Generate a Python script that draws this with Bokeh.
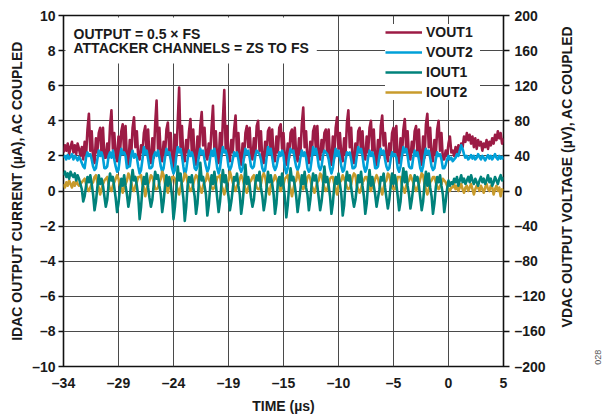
import math
from bokeh.plotting import figure
from bokeh.layouts import row
from bokeh.models import Range1d, LinearAxis, FixedTicker, Legend, LegendItem, Label
from bokeh.embed import file_html
from bokeh.resources import INLINE

# ---------------- data ----------------
t_start_us = -34.0
t_step_us = 0.125

# VOUT1, right axis (uV)
vout1_uV = [
    44, 52, 46, 54, 42, 50, 56, 44, 52, 42, 54, 48, 40, 50,
    36, 56, 40, 70, 88, 46, 68, 36,
    32, 60, 44, 66, 72, 42, 72, 38,
    38, 54, 38, 74, 92, 48, 66, 40,
    34, 62, 42, 68, 76, 44, 74, 34,
    30, 58, 40, 72, 84, 50, 68, 38,
    36, 52, 44, 66, 74, 42, 70, 36,
    32, 60, 38, 76, 103, 48, 72, 40,
    34, 56, 42, 70, 78, 46, 66, 34,
    28, 64, 40, 78, 118, 50, 74, 38,
    34, 58, 44, 68, 82, 44, 70, 36,
    30, 62, 38, 74, 90, 52, 72, 40,
    36, 54, 42, 72, 97, 46, 68, 34,
    32, 66, 40, 80, 115, 48, 74, 38,
    34, 58, 44, 70, 86, 44, 66, 36,
    30, 54, 38, 66, 74, 50, 72, 40,
    36, 60, 42, 74, 80, 46, 68, 34,
    32, 56, 40, 68, 72, 42, 70, 38,
    34, 62, 44, 72, 76, 48, 66, 36,
    30, 54, 38, 66, 70, 44, 72, 40,
    34, 60, 42, 76, 95, 50, 68, 34,
    32, 56, 40, 68, 74, 46, 74, 38,
    36, 58, 44, 66, 70, 42, 70, 36,
    30, 62, 38, 72, 84, 48, 66, 40,
    34, 60, 42, 78, 92, 50, 72, 34,
    32, 54, 40, 68, 72, 44, 68, 38,
    36, 62, 44, 72, 80, 46, 70, 36,
    30, 58, 38, 74, 86, 52, 66, 40,
    34, 54, 42, 66, 72, 44, 74, 34,
    32, 60, 40, 70, 82, 48, 68, 38,
    36, 56, 44, 68, 74, 42, 70, 36,
    30, 62, 38, 76, 88, 50, 72, 40,
    34, 58, 42, 70, 80, 46, 66, 36,
    36, 46, 40, 54, 62, 44,
    46, 40, 50, 42, 52, 44, 54, 50, 62, 56, 66, 58, 64, 54, 62, 50, 60, 48, 58,
    52, 56, 46, 54, 50, 58, 48, 56, 52, 60, 54, 64, 58, 68, 60, 66, 54, 60,
]

# VOUT2, right axis (uV)
vout2_uV = [
    38, 40, 36, 41, 37, 39, 42, 36, 40, 38, 35, 39, 36, 32,
    28, 26, 38, 44, 40, 42, 36, 28,
    24, 26, 36, 46, 40, 44, 38, 26,
    26, 28, 40, 44, 38, 46, 36, 28,
    22, 24, 38, 48, 42, 44, 40, 26,
    28, 28, 40, 46, 38, 42, 38, 28,
    20, 24, 36, 50, 42, 46, 36, 26,
    26, 28, 40, 44, 40, 46, 38, 28,
    22, 26, 38, 48, 42, 44, 36, 26,
    20, 24, 40, 50, 44, 48, 40, 28,
    18, 24, 36, 46, 40, 44, 38, 26,
    24, 28, 40, 48, 42, 46, 36, 28,
    22, 26, 38, 46, 40, 48, 38, 26,
    20, 26, 40, 50, 44, 46, 40, 28,
    24, 28, 36, 44, 40, 44, 36, 26,
    22, 26, 38, 48, 42, 46, 38, 28,
    26, 28, 40, 46, 44, 42, 36, 26,
    22, 24, 38, 50, 42, 48, 38, 28,
    24, 28, 36, 44, 40, 46, 40, 26,
    20, 26, 40, 48, 44, 46, 36, 28,
    24, 28, 38, 46, 40, 44, 38, 26,
    22, 24, 36, 50, 42, 48, 40, 28,
    24, 28, 40, 46, 44, 42, 36, 26,
    20, 26, 38, 48, 40, 46, 38, 28,
    22, 24, 36, 44, 42, 44, 36, 26,
    26, 28, 40, 50, 44, 48, 40, 28,
    22, 26, 38, 46, 40, 44, 38, 26,
    26, 28, 40, 48, 42, 46, 36, 28,
    24, 26, 36, 44, 40, 42, 38, 26,
    22, 28, 40, 50, 44, 48, 40, 28,
    26, 26, 38, 46, 40, 44, 36, 26,
    22, 28, 40, 48, 42, 46, 38, 28,
    24, 26, 36, 44, 40, 42, 36, 26,
    26, 30, 36, 40, 36, 38,
    34, 36, 38, 42, 40, 46, 52, 48, 42, 38, 40, 36, 38, 41, 37, 40, 36, 38, 42,
    39, 36, 40, 38, 35, 38, 41, 37, 40, 36, 39, 42, 38, 36, 40, 37, 39, 36,
]

# IOUT1, left axis (uA)
iout1_uA = [
    0.9, 1.1, 0.8, 1.0, 0.7, 1.1, 0.9, 0.8, 1.0, 0.6, 0.9, 0.7, 0.4, 0.1,
    -0.6, -0.3, 0.3, 0.8, 0.5, 0.9, 0.4, -0.2,
    -1.1, -0.6, 0.2, 0.9, 0.4, 0.7, 0.3, -0.3,
    -0.9, -0.5, 0.4, 1.0, 0.6, 0.8, 0.2, -0.4,
    -1.2, -0.7, 0.1, 0.7, 0.3, 0.9, 0.3, -0.2,
    -0.9, -0.4, 0.5, 1.2, 0.6, 0.8, 0.3, -0.3,
    -1.6, -0.9, 0.2, 0.8, 0.4, 1.0, 0.2, -0.4,
    -0.9, -0.5, 0.4, 1.1, 0.7, 0.9, 0.3, -0.2,
    -1.2, -0.6, 0.3, 0.9, 0.3, 0.8, 0.4, -0.3,
    -1.6, -0.9, 0.1, 1.4, 0.6, 1.0, 0.3, -0.4,
    -1.7, -0.9, 0.3, 0.8, 0.5, 0.9, 0.2, -0.3,
    -1.3, -0.7, 0.5, 1.6, 0.6, 0.8, 0.3, -0.2,
    -1.4, -0.8, 0.2, 0.9, 0.4, 1.1, 0.4, -0.4,
    -1.2, -0.6, 0.4, 1.2, 0.5, 0.9, 0.2, -0.3,
    -1.1, -0.6, 0.1, 0.8, 0.6, 1.0, 0.3, -0.2,
    -1.3, -0.7, 0.3, 1.5, 0.4, 0.8, 0.3, -0.4,
    -0.9, -0.5, 0.4, 0.9, 0.6, 1.1, 0.2, -0.3,
    -1.1, -0.6, 0.2, 1.1, 0.5, 0.9, 0.4, -0.2,
    -1.3, -0.7, 0.5, 0.8, 0.3, 1.0, 0.3, -0.4,
    -1.5, -0.8, 0.3, 1.3, 0.6, 0.8, 0.3, -0.3,
    -1.2, -0.6, 0.1, 0.9, 0.4, 1.1, 0.2, -0.2,
    -1.1, -0.5, 0.4, 1.0, 0.6, 0.9, 0.3, -0.4,
    -1.1, -0.6, 0.2, 1.4, 0.5, 0.8, 0.3, -0.3,
    -1.3, -0.7, 0.3, 0.8, 0.4, 1.0, 0.4, -0.2,
    -1.4, -0.8, 0.5, 1.1, 0.6, 0.9, 0.2, -0.4,
    -0.9, -0.5, 0.2, 0.9, 0.5, 1.1, 0.3, -0.3,
    -1.3, -0.7, 0.4, 1.2, 0.3, 0.8, 0.3, -0.2,
    -0.9, -0.4, 0.1, 0.8, 0.6, 1.0, 0.2, -0.4,
    -1.0, -0.5, 0.3, 1.0, 0.4, 0.9, 0.4, -0.3,
    -1.1, -0.6, 0.5, 1.3, 0.5, 1.1, 0.3, -0.2,
    -1.0, -0.5, 0.2, 0.9, 0.6, 0.8, 0.3, -0.4,
    -1.1, -0.6, 0.4, 1.1, 0.3, 1.0, 0.2, -0.3,
    -1.3, -0.7, 0.2, 0.8, 0.5, 0.9, 0.3, -0.2,
    -1.2, -0.6, 0.1, 0.6, 0.3, 0.5,
    0.4, 0.7, 0.5, 0.8, 0.3, 0.6, 0.9, 0.5, 0.7, 0.4, 0.6, 0.8, 0.5, 0.9, 0.6, 0.4, 0.7, 0.5, 0.3,
    0.6, 0.8, 0.5, 0.7, 0.4, 0.6, 0.9, 0.5, 0.7, 0.3, 0.5, 0.8, 0.6, 0.4, 0.7, 0.9, 0.6, 0.8,
]

# IOUT2, left axis (uA)
iout2_uA = [
    0.4, 0.2, 0.5, 0.3, 0.6, 0.4, 0.2, 0.5, 0.3, 0.6, 0.4, 0.3, 0.4, 0.5,
    0.6, 0.7, 0.4, 0.1, 0.0, 0.2, 0.4, 0.5,
    0.8, 0.9, 0.5, 0.2, -0.2, 0.1, 0.4, 0.6,
    0.7, 0.8, 0.4, 0.1, 0.0, 0.3, 0.5, 0.7,
    0.9, 0.7, 0.3, 0.2, -0.1, 0.2, 0.4, 0.6,
    1.0, 0.8, 0.5, 0.1, 0.0, 0.3, 0.5, 0.8,
    0.8, 0.9, 0.4, 0.2, -0.3, 0.1, 0.4, 0.6,
    0.9, 0.8, 0.5, 0.1, 0.1, 0.2, 0.5, 0.7,
    1.1, 0.9, 0.4, 0.2, -0.1, 0.3, 0.4, 0.8,
    0.8, 0.7, 0.3, 0.1, -0.2, 0.2, 0.5, 0.6,
    1.0, 0.9, 0.5, 0.2, 0.0, 0.1, 0.4, 0.7,
    0.9, 0.8, 0.4, 0.1, -0.1, 0.3, 0.5, 0.6,
    1.0, 0.7, 0.5, 0.2, 0.1, 0.2, 0.4, 0.8,
    0.8, 0.9, 0.3, 0.1, -0.2, 0.1, 0.5, 0.6,
    1.1, 0.8, 0.5, 0.2, 0.0, 0.3, 0.4, 0.7,
    0.9, 0.7, 0.4, 0.1, -0.1, 0.2, 0.5, 0.6,
    0.8, 0.9, 0.5, 0.2, 0.1, 0.1, 0.4, 0.8,
    1.0, 0.8, 0.3, 0.1, -0.2, 0.3, 0.5, 0.6,
    0.9, 0.7, 0.5, 0.2, 0.0, 0.2, 0.4, 0.7,
    0.8, 0.9, 0.4, 0.1, -0.3, 0.1, 0.5, 0.6,
    1.1, 0.8, 0.5, 0.2, 0.1, 0.3, 0.4, 0.8,
    0.9, 0.7, 0.3, 0.1, -0.1, 0.2, 0.5, 0.6,
    1.0, 0.9, 0.5, 0.2, 0.0, 0.1, 0.4, 0.7,
    0.8, 0.8, 0.4, 0.1, -0.2, 0.3, 0.5, 0.6,
    0.9, 0.7, 0.5, 0.2, 0.1, 0.2, 0.4, 0.8,
    1.0, 0.9, 0.3, 0.1, -0.1, 0.1, 0.5, 0.6,
    0.8, 0.8, 0.5, 0.2, 0.0, 0.3, 0.4, 0.7,
    0.9, 0.7, 0.4, 0.1, -0.2, 0.2, 0.5, 0.6,
    1.0, 0.9, 0.5, 0.2, 0.1, 0.1, 0.4, 0.8,
    0.8, 0.8, 0.3, 0.1, -0.1, 0.3, 0.5, 0.6,
    0.9, 0.7, 0.5, 0.2, 0.0, 0.2, 0.4, 0.7,
    1.0, 0.9, 0.4, 0.1, -0.2, 0.1, 0.5, 0.6,
    0.8, 0.8, 0.5, 0.2, 0.1, 0.3, 0.4, 0.7,
    0.6, 0.5, 0.3, 0.1, 0.0, 0.2,
    0.2, 0.4, 0.1, 0.3, 0.0, 0.2, 0.4, 0.1, -0.1, 0.2, 0.3, 0.0, 0.2, 0.4, 0.1, -0.2, 0.1, 0.3, 0.2,
    0.0, 0.3, 0.1, -0.1, 0.2, 0.4, 0.1, 0.0, 0.3, 0.2, -0.2, 0.1, 0.3, 0.0, 0.2, -0.3, 0.1, 0.0,
]

x_tick_labels = ["–34", "–29", "–24", "–19", "–15", "–10", "–5", "0", "5"]
left_ticks = [-10, -8, -6, -4, -2, 0, 2, 4, 6, 8, 10]
right_ticks = [-200, -160, -120, -80, -40, 0, 40, 80, 120, 160, 200]

series_names = ["VOUT1", "VOUT2", "IOUT1", "IOUT2"]
series_colors = {"VOUT1": "#9c1b45", "VOUT2": "#00a0d8", "IOUT1": "#00827b", "IOUT2": "#c89b2c"}

n = len(vout1_uV)
assert n == len(vout2_uV) == len(iout1_uA) == len(iout2_uA), (len(vout1_uV), len(vout2_uV), len(iout1_uA), len(iout2_uA))
time_us = [t_start_us + t_step_us * i for i in range(n)]

# ---------------- figure ----------------
FONT = "Liberation Sans"
TXT = "#1a1a1a"
x_lo, x_hi = -34.0, 5.0

p = figure(width=553, height=416, x_range=Range1d(x_lo, x_hi), y_range=Range1d(-10, 10),
           output_backend="svg", toolbar_location=None,
           min_border_left=63, min_border_right=50, min_border_top=15, min_border_bottom=49,
           x_axis_label="TIME (µs)", y_axis_label="IDAC OUTPUT CURRENT (µA), AC COUPLED")
p.extra_y_ranges = {"v": Range1d(-200, 200)}
p.background_fill_color = "white"
p.border_fill_color = "white"
p.outline_line_color = "#111111"
p.outline_line_width = 1.6

step = (x_hi - x_lo) / (len(x_tick_labels) - 1)
x_ticks = [x_lo + i * step for i in range(len(x_tick_labels))]
x_ticks = [int(v) if float(v).is_integer() else v for v in x_ticks]

def dash_label(v):
    return ("–" + str(abs(v))) if v < 0 else str(v)

xa = p.xaxis[0]
xa.ticker = FixedTicker(ticks=x_ticks)
xa.major_label_overrides = {tv: lab for tv, lab in zip(x_ticks, x_tick_labels)}
ya = p.yaxis[0]
ya.ticker = FixedTicker(ticks=left_ticks)
ya.major_label_overrides = {v: dash_label(v) for v in left_ticks}

ra = LinearAxis(y_range_name="v")
ra.ticker = FixedTicker(ticks=right_ticks)
ra.major_label_overrides = {v: dash_label(v) for v in right_ticks}
p.add_layout(ra, "right")

for ax in (xa, ya, ra):
    ax.axis_line_color = None
    ax.minor_tick_line_color = None
    ax.major_tick_in = 0
    ax.major_tick_line_color = "#111111"
    ax.major_tick_line_width = 1.3
    ax.major_label_text_font = FONT
    ax.major_label_text_font_style = "bold"
    ax.major_label_text_font_size = "14px"
    ax.major_label_text_color = TXT
    ax.axis_label_text_font = FONT
    ax.axis_label_text_font_style = "bold"
    ax.axis_label_text_font_size = "14px"
    ax.axis_label_text_color = TXT

xa.major_tick_out = 0
xa.major_label_standoff = 8
xa.axis_label_standoff = 4
ya.major_tick_out = 5
ya.major_label_standoff = 3
ya.axis_label_standoff = 4
ra.major_tick_out = 6
ra.major_label_standoff = 5

for g in (p.xgrid[0], p.ygrid[0]):
    g.grid_line_color = "#4a4a4a"
    g.grid_line_width = 1

# ---------------- series ----------------
LW = 2.6
r_v1 = p.line(time_us, vout1_uV, y_range_name="v", line_color=series_colors["VOUT1"], line_width=LW, line_join="round")
r_v2 = p.line(time_us, vout2_uV, y_range_name="v", line_color=series_colors["VOUT2"], line_width=LW, line_join="round")
r_i2 = p.line(time_us, iout2_uA, line_color=series_colors["IOUT2"], line_width=LW, line_join="round")
r_i1 = p.line(time_us, iout1_uA, line_color=series_colors["IOUT1"], line_width=LW, line_join="round")
renderers = {"VOUT1": r_v1, "VOUT2": r_v2, "IOUT1": r_i1, "IOUT2": r_i2}

legend = Legend(items=[LegendItem(label=nm, renderers=[renderers[nm]]) for nm in series_names],
                location=(322, 266), orientation="vertical", margin=0, padding=5,
                background_fill_color="white", background_fill_alpha=1.0, border_line_color=None,
                glyph_width=37, glyph_height=16, label_height=16, label_width=54,
                label_standoff=4, spacing=4,
                label_text_font=FONT, label_text_font_style="bold", label_text_font_size="14px",
                label_text_color=TXT)
p.add_layout(legend)

note = Label(x=x_lo, y=10, x_offset=2, y_offset=-2,
             text="OUTPUT = 0.5 × FS\nATTACKER CHANNELS = ZS TO FS",
             text_font=FONT, text_font_style="bold", text_font_size="14px", text_color=TXT,
             text_align="left", text_baseline="top", text_line_height=0.88,
             background_fill_color="white", background_fill_alpha=1.0, padding=8)
p.add_layout(note)

# ---------------- right-hand strip: right axis title and figure number ----------------
strip_w, strip_h = 52, 416
p2 = figure(width=strip_w, height=strip_h, x_range=Range1d(0, strip_w), y_range=Range1d(0, strip_h),
            output_backend="svg", toolbar_location=None,
            min_border_left=0, min_border_right=0, min_border_top=0, min_border_bottom=0)
p2.axis.visible = False
p2.grid.visible = False
p2.outline_line_color = None
p2.background_fill_color = "white"
p2.border_fill_color = "white"

p2.add_layout(Label(x=13, y=225, text="VDAC OUTPUT VOLTAGE (µV), AC COUPLED", angle=math.pi / 2,
                    text_font=FONT, text_font_style="bold", text_font_size="14px", text_color=TXT,
                    text_align="center", text_baseline="middle"))
p2.add_layout(Label(x=44, y=11, text="028", angle=math.pi / 2,
                    text_font=FONT, text_font_size="9px", text_color="#555555",
                    text_align="center", text_baseline="middle"))

layout = row(p, p2)
open("out.html", "w").write(file_html(layout, INLINE))
